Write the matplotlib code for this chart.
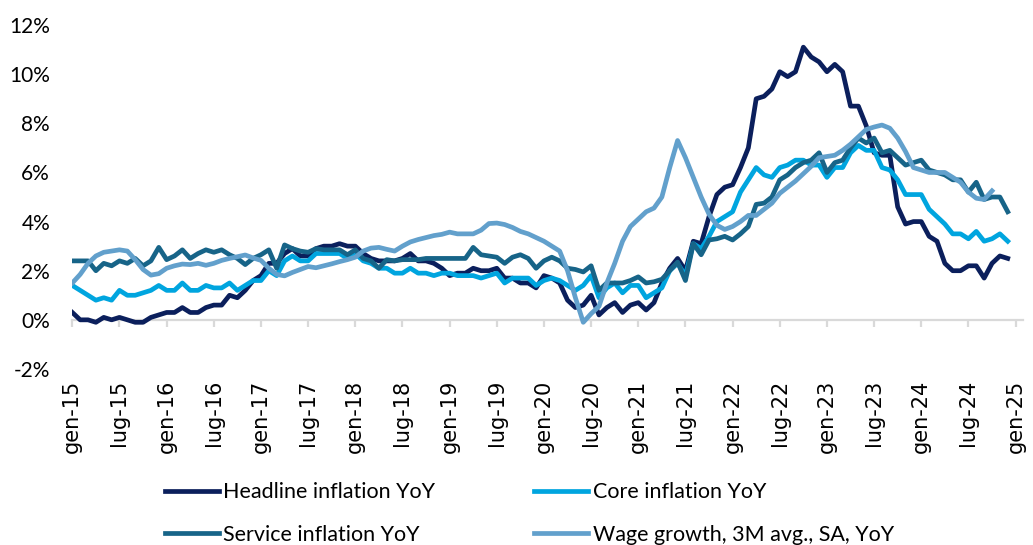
import matplotlib
matplotlib.use("Agg")
import matplotlib.pyplot as plt
from matplotlib.ticker import FuncFormatter
import numpy as np

# monthly data, Jan 2015 onwards (% YoY)
headline = [0.3, 0.0, 0.0, -0.1, 0.1, 0.0, 0.1, 0.0, -0.1, -0.1, 0.1, 0.2,
            0.3, 0.3, 0.5, 0.3, 0.3, 0.5, 0.6, 0.6, 1.0, 0.9, 1.2, 1.6,
            1.8, 2.3, 2.3, 2.7, 2.9, 2.6, 2.6, 2.9, 3.0, 3.0, 3.1, 3.0,
            3.0, 2.7, 2.5, 2.4, 2.4, 2.4, 2.5, 2.7, 2.4, 2.4, 2.3, 2.1,
            1.8, 1.9, 1.9, 2.1, 2.0, 2.0, 2.1, 1.7, 1.7, 1.5, 1.5, 1.3,
            1.8, 1.7, 1.5, 0.8, 0.5, 0.6, 1.0, 0.2, 0.5, 0.7, 0.3, 0.6,
            0.7, 0.4, 0.7, 1.5, 2.1, 2.5, 2.0, 3.2, 3.1, 4.2, 5.1, 5.4,
            5.5, 6.2, 7.0, 9.0, 9.1, 9.4, 10.1, 9.9, 10.1, 11.1, 10.7, 10.5,
            10.1, 10.4, 10.1, 8.7, 8.7, 7.9, 6.8, 6.7, 6.7, 4.6, 3.9, 4.0,
            4.0, 3.4, 3.2, 2.3, 2.0, 2.0, 2.2, 2.2, 1.7, 2.3, 2.6, 2.5]

core = [1.4, 1.2, 1.0, 0.8, 0.9, 0.8, 1.2, 1.0, 1.0, 1.1, 1.2, 1.4,
        1.2, 1.2, 1.5, 1.2, 1.2, 1.4, 1.3, 1.3, 1.5, 1.2, 1.4, 1.6,
        1.6, 2.0, 1.8, 2.4, 2.6, 2.4, 2.4, 2.7, 2.7, 2.7, 2.7, 2.5,
        2.7, 2.4, 2.3, 2.1, 2.1, 1.9, 1.9, 2.1, 1.9, 1.9, 1.8, 1.9,
        1.9, 1.8, 1.8, 1.8, 1.7, 1.8, 1.9, 1.5, 1.7, 1.7, 1.7, 1.4,
        1.6, 1.7, 1.6, 1.4, 1.2, 1.4, 1.8, 0.9, 1.3, 1.5, 1.1, 1.4,
        1.4, 0.9, 1.1, 1.3, 2.0, 2.3, 1.8, 3.1, 2.9, 3.4, 4.0, 4.2,
        4.4, 5.2, 5.7, 6.2, 5.9, 5.8, 6.2, 6.3, 6.5, 6.5, 6.3, 6.3,
        5.8, 6.2, 6.2, 6.8, 7.1, 6.9, 6.9, 6.2, 6.1, 5.7, 5.1, 5.1,
        5.1, 4.5, 4.2, 3.9, 3.5, 3.5, 3.3, 3.6, 3.2, 3.3, 3.5, 3.2]

services = [2.4, 2.4, 2.4, 2.0, 2.3, 2.2, 2.4, 2.3, 2.5, 2.2, 2.4, 2.95,
            2.45, 2.6, 2.85, 2.5, 2.7, 2.85, 2.75, 2.85, 2.65, 2.5, 2.25, 2.5,
            2.65, 2.85, 2.1, 3.05, 2.9, 2.8, 2.75, 2.9, 2.85, 2.85, 2.85, 2.65,
            2.85, 2.5, 2.4, 2.1, 2.45, 2.4, 2.45, 2.45, 2.45, 2.5, 2.5, 2.5,
            2.5, 2.5, 2.5, 2.95, 2.65, 2.6, 2.55, 2.3, 2.55, 2.65, 2.5, 2.1,
            2.4, 2.55, 2.4, 2.1, 2.05, 1.95, 2.2, 1.2, 1.5, 1.5, 1.5, 1.6,
            1.75, 1.5, 1.55, 1.65, 2.0, 2.35, 1.6, 3.1, 2.65, 3.25, 3.3, 3.4,
            3.25, 3.5, 3.8, 4.7, 4.75, 5.0, 5.7, 5.9, 6.2, 6.4, 6.5, 6.8,
            6.0, 6.4, 6.5, 7.0, 7.4, 7.2, 7.4, 6.8, 6.9, 6.6, 6.3, 6.4,
            6.5, 6.1, 6.0, 5.9, 5.7, 5.7, 5.2, 5.6, 4.9, 5.0, 5.0, 4.4]

wages = [1.5, 1.85, 2.3, 2.6, 2.75, 2.8, 2.85, 2.8, 2.45, 2.05, 1.82, 1.88,
         2.1, 2.2, 2.27, 2.25, 2.3, 2.22, 2.3, 2.42, 2.5, 2.57, 2.64, 2.52,
         2.42, 2.1, 1.85, 1.79, 1.93, 2.05, 2.17, 2.12, 2.2, 2.28, 2.37, 2.45,
         2.55, 2.8, 2.92, 2.95, 2.87, 2.8, 3.0, 3.17, 3.27, 3.35, 3.43, 3.48,
         3.57, 3.5, 3.5, 3.5, 3.65, 3.92, 3.94, 3.88, 3.76, 3.6, 3.5, 3.35,
         3.2, 3.0, 2.8, 2.0, 0.9, -0.1, 0.25, 0.55, 1.5, 2.3, 3.2, 3.8,
         4.1, 4.4, 4.55, 5.0, 6.2, 7.3, 6.6, 5.8, 5.0, 4.3, 3.85, 3.68,
         3.8, 4.0, 4.25, 4.25, 4.5, 4.75, 5.15, 5.4, 5.65, 5.95, 6.25, 6.6,
         6.65, 6.7, 6.9, 7.15, 7.45, 7.75, 7.85, 7.93, 7.8, 7.4, 6.85, 6.2,
         6.1, 6.0, 6.0, 6.0, 5.8, 5.6, 5.2, 4.95, 4.9, 5.25]

tick_pos = list(range(0, 121, 6))
tick_labels = []
for y in range(15, 26):
    tick_labels.append("gen-%d" % y)
    if y < 25:
        tick_labels.append("lug-%d" % y)

c_head = "#0B1F5C"
c_core = "#00A5DF"
c_serv = "#176488"
c_wage = "#62A0CC"

plt.rcParams["font.family"] = ["DejaVu Sans"]
txt_font = ["Lato", "DejaVu Sans"]

fig = plt.figure(figsize=(10.33, 5.45), dpi=100)
ax = fig.add_axes([0.070, 0.323, 0.920, 0.631])

lw = 3.4
h1, = ax.plot(np.arange(len(headline)), headline, color=c_head, lw=lw, label="Headline inflation YoY", zorder=3)
h2, = ax.plot(np.arange(len(core)), core, color=c_core, lw=lw, label="Core inflation YoY", zorder=3)
h3, = ax.plot(np.arange(len(services)), services, color=c_serv, lw=lw, label="Service inflation YoY", zorder=3)
h4, = ax.plot(np.arange(len(wages)), wages, color=c_wage, lw=lw, label="Wage growth, 3M avg., SA, YoY", zorder=3)

ax.set_xlim(0, 120.9)
ax.set_ylim(-2, 12)
ax.set_yticks(range(-2, 13, 2))
ax.yaxis.set_major_formatter(FuncFormatter(lambda v, p: "%d%%" % v))
ax.tick_params(axis="y", length=0, pad=16, labelsize=15)
for lab in ax.get_yticklabels():
    lab.set_family(txt_font)

for s in ["top", "right", "left"]:
    ax.spines[s].set_visible(False)
ax.spines["bottom"].set_position(("data", 0))
ax.spines["bottom"].set_color("#D9D9D9")
ax.spines["bottom"].set_linewidth(1.6)
ax.set_xticks(tick_pos)
ax.tick_params(axis="x", direction="out", length=5, width=1.6, color="#D9D9D9", labelbottom=False)

sec = ax.secondary_xaxis("bottom")
sec.set_xticks(tick_pos)
sec.set_xticklabels(tick_labels, rotation=90)
sec.tick_params(length=0, pad=8, labelsize=15)
sec.spines["bottom"].set_visible(False)

leg = fig.legend([h1, h3, h2, h4], [h.get_label() for h in [h1, h3, h2, h4]],
                 loc="upper left", bbox_to_anchor=(0.160, 0.115), ncol=2, frameon=False,
                 prop={"family": txt_font, "size": 15.5}, handlelength=2.5, handletextpad=0.2,
                 columnspacing=4.6, labelspacing=1.05, borderpad=0, borderaxespad=0)

fig.savefig("out.png", dpi=100)
